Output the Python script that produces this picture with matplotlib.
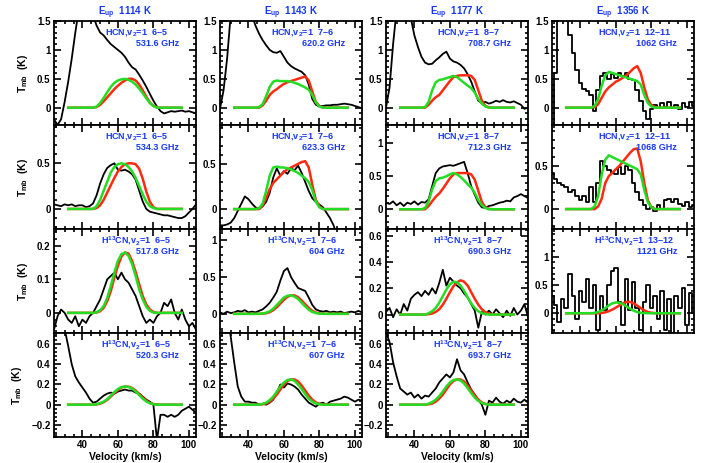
import matplotlib
matplotlib.use('Agg')
import matplotlib.pyplot as plt
from matplotlib.ticker import MultipleLocator, AutoMinorLocator, FuncFormatter

plt.rcParams['font.family'] = ['Liberation Sans', 'DejaVu Sans']
plt.rcParams['font.weight'] = 'bold'
plt.rcParams['axes.titleweight'] = 'bold'
plt.rcParams['axes.labelweight'] = 'bold'
plt.rcParams['mathtext.fontset'] = 'custom'
plt.rcParams['mathtext.rm'] = 'Liberation Sans:bold'
plt.rcParams['mathtext.it'] = 'Liberation Sans:bold'
plt.rcParams['mathtext.bf'] = 'Liberation Sans:bold'

# velocity grids (km/s)
v_obs = list(range(24, 106, 2))     # observed spectra
v_mod = list(range(32, 98, 2))      # model profiles

col_titles = [r'E$_{up}$  1114 K', r'E$_{up}$  1143 K', r'E$_{up}$  1177 K', r'E$_{up}$  1356 K']

# ---- column 1 : Eup 1114 K ----
obs_531 = [-0.2, -0.3, -0.2, 0.1, 0.45, 0.85, 1.3, 1.7, 2.0, 2.2, 2.0, 1.6, 1.42, 1.3, 1.25, 1.17,
           1.1, 1.05, 1.0, 0.95, 0.88, 0.78, 0.7, 0.66, 0.57, 0.47, 0.36, 0.24, 0.12, 0.02, -0.06,
           -0.1, -0.08, -0.06, -0.07, -0.06, -0.05, -0.07, -0.06, -0.08, -0.1]
grn_531 = [0, 0, 0, 0, 0, 0, 0, 0, 0.02, 0.08, 0.17, 0.27, 0.36, 0.43, 0.47, 0.49, 0.5, 0.48, 0.45,
           0.4, 0.33, 0.25, 0.16, 0.08, 0.03, 0, 0, 0, 0, 0, 0, 0, 0]
red_531 = [0, 0, 0, 0, 0, 0, 0, 0, 0.01, 0.05, 0.11, 0.18, 0.25, 0.32, 0.38, 0.43, 0.47, 0.5, 0.5,
           0.47, 0.4, 0.3, 0.19, 0.09, 0.03, 0.005, 0, 0, 0, 0, 0, 0, 0]

obs_534 = [0.05, 0.04, 0.03, 0.05, 0.04, 0.05, 0.03, 0.04, 0.04, 0.02, 0.03, 0.06, 0.15, 0.28, 0.38,
           0.45, 0.48, 0.5, 0.43, 0.42, 0.43, 0.41, 0.38, 0.32, 0.2, 0.08, 0.0, -0.03, -0.04, -0.05,
           -0.06, -0.07, -0.07, -0.08, -0.09, -0.1, -0.1, -0.08, -0.04, 0.0, 0.05]
grn_534 = [0, 0, 0, 0, 0, 0, 0, 0, 0.03, 0.1, 0.2, 0.3, 0.4, 0.46, 0.49, 0.5, 0.49, 0.46, 0.41,
           0.34, 0.25, 0.16, 0.08, 0.03, 0.01, 0, 0, 0, 0, 0, 0, 0, 0]
red_534 = [0, 0, 0, 0, 0, 0, 0, 0, 0.01, 0.04, 0.1, 0.18, 0.26, 0.34, 0.41, 0.46, 0.49, 0.5, 0.5,
           0.49, 0.44, 0.33, 0.19, 0.08, 0.02, 0, 0, 0, 0, 0, 0, 0, 0]

obs_517 = [-0.05, -0.01, 0.01, 0.0, -0.02, -0.03, -0.01, -0.04, -0.02, -0.03, -0.01, 0.0, 0.02, 0.04,
           0.07, 0.1, 0.11, 0.12, 0.1, 0.12, 0.1, 0.09, 0.07, 0.05, 0.02, -0.01, -0.03, -0.02, -0.03,
           -0.01, 0.0, 0.03, 0.02, 0.04, 0.0, -0.02, 0.01, -0.02, -0.04, -0.03, -0.05]
grn_517 = [0, 0, 0, 0, 0, 0, 0, 0, 0.002, 0.008, 0.02, 0.045, 0.08, 0.12, 0.155, 0.175, 0.18, 0.17,
           0.145, 0.11, 0.07, 0.04, 0.018, 0.006, 0.001, 0, 0, 0, 0, 0, 0, 0, 0]
red_517 = [0, 0, 0, 0, 0, 0, 0, 0, 0.001, 0.005, 0.015, 0.035, 0.065, 0.105, 0.14, 0.168, 0.18, 0.177,
           0.155, 0.122, 0.085, 0.05, 0.025, 0.01, 0.003, 0, 0, 0, 0, 0, 0, 0, 0]

obs_520 = [1.0, 0.95, 0.85, 0.75, 0.58, 0.4, 0.28, 0.22, 0.17, 0.12, 0.06, 0.02, 0.03, 0.06, 0.09,
           0.11, 0.12, 0.11, 0.13, 0.14, 0.15, 0.14, 0.14, 0.12, 0.11, 0.08, 0.05, 0.03, 0.0, -0.35,
           -0.1, -0.1, -0.12, -0.1, -0.12, -0.1, -0.06, -0.04, -0.02, -0.05, -0.08]
grn_520 = [0, 0, 0, 0, 0, 0, 0, 0, 0.005, 0.015, 0.03, 0.055, 0.09, 0.125, 0.155, 0.175, 0.18, 0.175,
           0.16, 0.13, 0.095, 0.06, 0.032, 0.014, 0.005, 0, 0, 0, 0, 0, 0, 0, 0]
red_520 = [0, 0, 0, 0, 0, 0, 0, 0, 0.003, 0.01, 0.025, 0.048, 0.08, 0.115, 0.145, 0.17, 0.18, 0.178,
           0.165, 0.14, 0.105, 0.07, 0.04, 0.018, 0.007, 0.002, 0, 0, 0, 0, 0, 0, 0]

# ---- column 2 : Eup 1143 K ----
obs_620 = [-0.02, 0.3, 0.85, 1.6, 2.0, 2.0, 2.0, 2.0, 2.0, 1.6, 1.42, 1.28, 1.17, 1.08, 1.0, 0.96,
           0.95, 0.98, 0.88, 0.78, 0.72, 0.68, 0.65, 0.62, 0.56, 0.4, 0.15, 0.05, 0.02, 0.03, 0.04,
           0.04, 0.05, 0.05, 0.06, 0.07, 0.06, 0.05, 0.03, 0.01, -0.01]
grn_620 = [0, 0, 0, 0, 0, 0, 0, 0.01, 0.06, 0.2, 0.36, 0.45, 0.47, 0.46, 0.46, 0.46, 0.45, 0.43,
           0.41, 0.38, 0.35, 0.31, 0.22, 0.09, 0.02, 0, 0, 0, 0, 0, 0, 0, 0]
red_620 = [0, 0, 0, 0, 0, 0, 0, 0, 0.04, 0.12, 0.22, 0.28, 0.32, 0.37, 0.41, 0.44, 0.46, 0.48, 0.5,
           0.52, 0.54, 0.47, 0.28, 0.1, 0.03, 0, 0, 0, 0, 0, 0, 0, 0]

obs_623 = [-0.18, -0.18, -0.17, -0.15, -0.1, -0.02, 0.06, 0.14, 0.11, 0.06, 0.02, 0.0, 0.03, 0.08,
           0.18, 0.35, 0.45, 0.37, 0.42, 0.39, 0.45, 0.43, 0.48, 0.4, 0.3, 0.2, 0.12, 0.08, 0.05,
           0.02, -0.04, -0.1, -0.18, -0.3, -0.45, -0.5, -0.5, -0.5, -0.5, -0.5, -0.5]
grn_623 = [0, 0, 0, 0, 0, 0, 0, 0.01, 0.06, 0.2, 0.37, 0.46, 0.47, 0.46, 0.46, 0.45, 0.44, 0.42,
           0.4, 0.37, 0.34, 0.3, 0.21, 0.08, 0.02, 0, 0, 0, 0, 0, 0, 0, 0]
red_623 = [0, 0, 0, 0, 0, 0, 0, 0, 0.04, 0.12, 0.22, 0.29, 0.33, 0.37, 0.41, 0.44, 0.46, 0.48, 0.5,
           0.52, 0.53, 0.46, 0.27, 0.1, 0.03, 0, 0, 0, 0, 0, 0, 0, 0]

obs_604 = [0.02, 0.0, 0.03, 0.01, 0.02, 0.04, 0.03, 0.05, 0.02, 0.03, 0.02, 0.04, 0.06, 0.1, 0.15,
           0.22, 0.3, 0.45, 0.58, 0.62, 0.5, 0.42, 0.35, 0.33, 0.31, 0.22, 0.12, 0.06, 0.04, 0.03,
           0.04, 0.02, 0.03, 0.02, 0.03, 0.01, 0.02, 0.03, 0.02, 0.04, 0.02]
grn_604 = [0, 0, 0, 0, 0, 0, 0, 0, 0.005, 0.015, 0.035, 0.07, 0.12, 0.17, 0.22, 0.245, 0.25, 0.235,
           0.2, 0.15, 0.1, 0.055, 0.025, 0.01, 0.003, 0, 0, 0, 0, 0, 0, 0, 0]
red_604 = [0, 0, 0, 0, 0, 0, 0, 0, 0.002, 0.008, 0.022, 0.05, 0.09, 0.14, 0.19, 0.23, 0.25, 0.25,
           0.225, 0.18, 0.13, 0.08, 0.04, 0.017, 0.006, 0.002, 0, 0, 0, 0, 0, 0, 0]

obs_607 = [1.0, 0.95, 0.85, 0.68, 0.42, 0.18, 0.08, 0.03, 0.03, 0.02, 0.02, 0.0, 0.01, 0.0, 0.02,
           0.05, 0.12, 0.2, 0.17, 0.21, 0.2, 0.18, 0.15, 0.1, 0.06, 0.02, 0.0, -0.02, 0.01, 0.02,
           0.0, 0.03, 0.04, 0.05, 0.06, 0.08, 0.07, 0.05, 0.03, 0.05, 0.04]
grn_607 = [0, 0, 0, 0, 0, 0, 0, 0, 0.008, 0.02, 0.045, 0.08, 0.13, 0.18, 0.22, 0.245, 0.25, 0.235,
           0.2, 0.155, 0.105, 0.06, 0.03, 0.012, 0.004, 0, 0, 0, 0, 0, 0, 0, 0]
red_607 = [0, 0, 0, 0, 0, 0, 0, 0, 0.004, 0.012, 0.03, 0.06, 0.1, 0.15, 0.2, 0.235, 0.25, 0.25,
           0.23, 0.19, 0.14, 0.09, 0.05, 0.022, 0.008, 0.002, 0, 0, 0, 0, 0, 0, 0]

# ---- column 3 : Eup 1177 K ----
obs_708 = [0.0, 0.35, 1.1, 1.7, 2.0, 2.0, 2.0, 1.55, 1.25, 1.05, 0.88, 0.78, 0.75, 0.76, 0.82, 0.87,
           0.93, 0.97, 0.85, 0.8, 0.78, 0.74, 0.68, 0.58, 0.45, 0.28, 0.12, 0.08, 0.1, 0.07, 0.09,
           0.12, 0.1, 0.13, 0.1, 0.09, 0.11, 0.08, 0.05, -0.02, 0.0]
grn_708 = [0, 0, 0, 0, 0, 0, 0, 0.01, 0.1, 0.3, 0.44, 0.48, 0.49, 0.51, 0.53, 0.55, 0.53, 0.48,
           0.43, 0.38, 0.34, 0.26, 0.15, 0.07, 0.02, 0, 0, 0, 0, 0, 0, 0, 0]
red_708 = [0, 0, 0, 0, 0, 0, 0, 0, 0.05, 0.12, 0.18, 0.22, 0.3, 0.38, 0.46, 0.53, 0.55, 0.56, 0.56,
           0.56, 0.55, 0.48, 0.3, 0.12, 0.03, 0.005, 0, 0, 0, 0, 0, 0, 0]

obs_712 = [0.1, 0.08, 0.12, 0.06, 0.1, 0.05, 0.1, 0.08, 0.12, 0.07, 0.11, 0.1, 0.15, 0.35, 0.55,
           0.62, 0.65, 0.66, 0.67, 0.66, 0.68, 0.7, 0.72, 0.55, 0.35, 0.22, 0.1, 0.03, 0.02, 0.05,
           0.06, 0.08, 0.1, 0.11, 0.13, 0.12, 0.18, 0.2, 0.23, 0.2, 0.17]
grn_712 = [0, 0, 0, 0, 0, 0, 0, 0.02, 0.12, 0.3, 0.43, 0.47, 0.48, 0.5, 0.53, 0.55, 0.53, 0.49,
           0.44, 0.38, 0.33, 0.25, 0.14, 0.06, 0.02, 0, 0, 0, 0, 0, 0, 0, 0]
red_712 = [0, 0, 0, 0, 0, 0, 0, 0, 0.05, 0.12, 0.19, 0.24, 0.31, 0.39, 0.47, 0.53, 0.55, 0.55, 0.55,
           0.55, 0.53, 0.45, 0.28, 0.11, 0.03, 0.005, 0, 0, 0, 0, 0, 0, 0]

obs_690 = [0.02, 0.05, -0.02, 0.04, 0.0, 0.08, 0.03, 0.12, 0.15, 0.17, 0.14, 0.18, 0.15, 0.2, 0.16,
           0.24, 0.34, 0.22, 0.28, 0.25, 0.22, 0.2, 0.16, 0.13, 0.08, 0.03, -0.1, 0.02, 0.0, 0.03,
           0.0, 0.04, 0.01, -0.02, 0.03, -0.01, 0.05, 0.0, 0.03, 0.08, -0.02]
grn_690 = [0, 0, 0, 0, 0, 0, 0, 0, 0.01, 0.025, 0.05, 0.09, 0.14, 0.19, 0.23, 0.25, 0.245, 0.22,
           0.18, 0.13, 0.085, 0.05, 0.025, 0.01, 0.004, 0, 0, 0, 0, 0, 0, 0, 0]
red_690 = [0, 0, 0, 0, 0, 0, 0, 0, 0.003, 0.008, 0.02, 0.04, 0.075, 0.12, 0.17, 0.215, 0.245, 0.26,
           0.25, 0.22, 0.17, 0.12, 0.075, 0.04, 0.018, 0.007, 0.002, 0, 0, 0, 0, 0, 0]

obs_693 = [0.72, 0.62, 0.42, 0.28, 0.16, 0.13, 0.1, 0.12, 0.07, 0.1, 0.06, 0.09, 0.08, 0.12, 0.16,
           0.22, 0.26, 0.3, 0.27, 0.32, 0.45, 0.34, 0.3, 0.22, 0.15, 0.1, 0.05, 0.0, -0.1, 0.04,
           0.02, 0.07, 0.03, 0.01, 0.04, 0.02, 0.06, 0.03, 0.02, 0.05, 0.02]
grn_693 = [0, 0, 0, 0, 0, 0, 0, 0, 0.01, 0.025, 0.05, 0.085, 0.13, 0.18, 0.22, 0.245, 0.25, 0.24,
           0.21, 0.165, 0.115, 0.07, 0.037, 0.017, 0.006, 0, 0, 0, 0, 0, 0, 0, 0]
red_693 = [0, 0, 0, 0, 0, 0, 0, 0, 0.004, 0.012, 0.03, 0.06, 0.1, 0.15, 0.2, 0.235, 0.25, 0.25,
           0.23, 0.19, 0.14, 0.09, 0.05, 0.022, 0.008, 0.002, 0, 0, 0, 0, 0, 0, 0]

# ---- column 4 : Eup 1356 K ----
obs_1062 = [-0.3, 0.6, 1.8, 2.0, 1.7, 1.25, 0.95, 0.65, 0.42, 0.32, 0.28, 0.22, -0.05, 0.3, 0.55,
            0.6, 0.5, 0.58, 0.52, 0.6, 0.55, 0.6, 0.5, 0.48, 0.3, 0.12, -0.05, -0.2, -0.02, 0.05,
            0.0, 0.08, 0.02, 0.1, 0.0, 0.05, -0.03, 0.08, 0.02, 0.1, 0.03]
grn_1062 = [0, 0, 0, 0, 0, 0, 0, 0, 0.03, 0.15, 0.38, 0.56, 0.62, 0.6, 0.58, 0.56, 0.54, 0.52, 0.5,
            0.48, 0.46, 0.4, 0.22, 0.08, 0.02, 0, 0, 0, 0, 0, 0, 0, 0]
red_1062 = [0, 0, 0, 0, 0, 0, 0, 0, 0.01, 0.06, 0.17, 0.28, 0.35, 0.4, 0.45, 0.48, 0.52, 0.56, 0.62,
            0.68, 0.72, 0.6, 0.35, 0.14, 0.04, 0.01, 0, 0, 0, 0, 0, 0, 0]

obs_1068 = [0.42, 0.35, 0.3, 0.28, 0.25, 0.2, 0.22, 0.15, 0.1, 0.15, 0.08, 0.25, 0.08, 0.3, 0.55,
            0.5, 0.45, 0.42, 0.4, 0.48, 0.4, 0.5, 0.45, 0.3, 0.2, 0.1, 0.05, 0.0, 0.02, -0.02, 0.05,
            0.0, 0.1, 0.12, 0.08, 0.12, 0.06, 0.03, 0.08, 0.02, 0.05]
grn_1068 = [0, 0, 0, 0, 0, 0, 0, 0, 0.03, 0.15, 0.4, 0.57, 0.62, 0.6, 0.58, 0.56, 0.54, 0.52, 0.5,
            0.48, 0.46, 0.4, 0.22, 0.08, 0.02, 0, 0, 0, 0, 0, 0, 0, 0]
red_1068 = [0, 0, 0, 0, 0, 0, 0, 0, 0.0, 0.03, 0.12, 0.3, 0.38, 0.42, 0.46, 0.5, 0.55, 0.6, 0.65,
            0.69, 0.7, 0.55, 0.3, 0.1, 0.02, 0, 0, 0, 0, 0, 0, 0, 0]

obs_1121 = [0.3, 0.15, -0.15, 0.25, 0.1, 0.7, 0.3, -0.1, 0.4, 0.2, 0.6, 0.1, 0.5, -0.3, 0.3, 0.05,
            0.5, 0.75, 0.8, 0.2, -0.2, 0.6, 0.05, 0.55, 0.1, -0.3, 0.2, 0.5, 0.1, 0.3, -0.1, 0.4,
            -0.3, 0.25, -0.35, 0.3, 0.1, 0.45, -0.2, 0.35, 0.0]
grn_1121 = [0, 0, 0, 0, 0, 0, 0, 0, 0.005, 0.02, 0.05, 0.09, 0.14, 0.175, 0.19, 0.185, 0.16, 0.12,
            0.08, 0.045, 0.02, 0.008, 0.002, 0, 0, 0, 0, 0, 0, 0, 0, 0, 0]
red_1121 = [0, 0, 0, 0, 0, 0, 0, 0, 0, 0, 0.005, 0.015, 0.035, 0.065, 0.1, 0.14, 0.175, 0.2, 0.2,
            0.175, 0.135, 0.09, 0.05, 0.022, 0.008, 0.002, 0, 0, 0, 0, 0, 0, 0]

# (row, col, obs, green, red, ylim, major step, line label, frequency label)
panels = [
    (0, 0, obs_531, grn_531, red_531, (-0.3, 1.5), 0.5, r'HCN,v$_2$=1  6–5', '531.6 GHz'),
    (1, 0, obs_534, grn_534, red_534, (-0.22, 0.92), 0.5, r'HCN,v$_2$=1  6–5', '534.3 GHz'),
    (2, 0, obs_517, grn_517, red_517, (-0.06, 0.25), 0.1, r'H$^{13}$CN,v$_2$=1  6–5', '517.8 GHz'),
    (3, 0, obs_520, grn_520, red_520, (-0.32, 0.71), 0.2, r'H$^{13}$CN,v$_2$=1  6–5', '520.3 GHz'),
    (0, 1, obs_620, grn_620, red_620, (-0.3, 1.5), 0.5, r'HCN,v$_2$=1  7–6', '620.2 GHz'),
    (1, 1, obs_623, grn_623, red_623, (-0.22, 0.93), 0.5, r'HCN,v$_2$=1  7–6', '623.3 GHz'),
    (2, 1, obs_604, grn_604, red_604, (-0.26, 1.15), 0.5, r'H$^{13}$CN,v$_2$=1  7–6', '604 GHz'),
    (3, 1, obs_607, grn_607, red_607, (-0.32, 0.71), 0.2, r'H$^{13}$CN,v$_2$=1  7–6', '607 GHz'),
    (0, 2, obs_708, grn_708, red_708, (-0.3, 1.5), 0.5, r'HCN,v$_2$=1  8–7', '708.7 GHz'),
    (1, 2, obs_712, grn_712, red_712, (-0.3, 1.28), 0.5, r'HCN,v$_2$=1  8–7', '712.3 GHz'),
    (2, 2, obs_690, grn_690, red_690, (-0.14, 0.65), 0.2, r'H$^{13}$CN,v$_2$=1  8–7', '690.3 GHz'),
    (3, 2, obs_693, grn_693, red_693, (-0.32, 0.71), 0.2, r'H$^{13}$CN,v$_2$=1  8–7', '693.7 GHz'),
    (0, 3, obs_1062, grn_1062, red_1062, (-0.3, 1.5), 0.5, r'HCN,v$_2$=1  12–11', '1062 GHz'),
    (1, 3, obs_1068, grn_1068, red_1068, (-0.23, 0.97), 0.5, r'HCN,v$_2$=1  12–11', '1068 GHz'),
    (2, 3, obs_1121, grn_1121, red_1121, (-0.35, 1.49), 0.5, r'H$^{13}$CN,v$_2$=1  13–12', '1121 GHz'),
]

BLUE = '#1838ff'
RED = '#ff2a10'
GREEN = '#22dd22'

W, H = 712, 463
col_left = [54, 220, 386, 552]
ax_w, ax_h, top0 = 142, 104, 21


def fmt_tick(v, pos):
    v = round(v, 6) + 0.0
    return ('%g' % v).replace('-', '\u2212')


fig = plt.figure(figsize=(W / 100, H / 100), dpi=100)

for row, col, obs, grn, red, ylim, step, lab1, lab2 in panels:
    top = top0 + ax_h * row
    ax = fig.add_axes([col_left[col] / W, 1 - (top + ax_h) / H, ax_w / W, ax_h / H])
    style = 'steps-mid' if col == 3 else 'default'
    ax.plot(v_obs, obs, color='black', lw=1.3, drawstyle=style)
    ax.plot(v_mod, red, color=RED, lw=1.8)
    ax.plot(v_mod, grn, color=GREEN, lw=1.8)
    ax.set_xlim(24, 104)
    ax.set_ylim(*ylim)
    ax.xaxis.set_major_locator(MultipleLocator(20))
    ax.xaxis.set_minor_locator(MultipleLocator(5))
    ax.yaxis.set_major_locator(MultipleLocator(step))
    ax.yaxis.set_minor_locator(AutoMinorLocator(5))
    ax.yaxis.set_major_formatter(FuncFormatter(fmt_tick))
    ax.tick_params(which='both', direction='in', top=True, right=True, width=1.2,
                   labelsize=7, pad=2.5)
    ax.tick_params(which='major', length=5)
    ax.tick_params(which='minor', length=2.5)
    for sp in ax.spines.values():
        sp.set_linewidth(1.3)
    if row == 3:
        ax.set_xlabel('Velocity (km/s)', fontsize=7.5, labelpad=1)
    else:
        ax.tick_params(labelbottom=False)
    if col == 0:
        ax.set_ylabel(r'T$_{mb}$  (K)', fontsize=7.5, labelpad=5)
    if row == 0:
        ax.set_title(col_titles[col], color=BLUE, fontsize=7, pad=4)
    ax.text(0.58, 0.89, lab1, transform=ax.transAxes, color=BLUE, fontsize=6.5,
            ha='center', va='center')
    ax.text(0.88, 0.785, lab2, transform=ax.transAxes, color=BLUE, fontsize=6.5,
            ha='right', va='center')

fig.savefig('out.png', dpi=100)
